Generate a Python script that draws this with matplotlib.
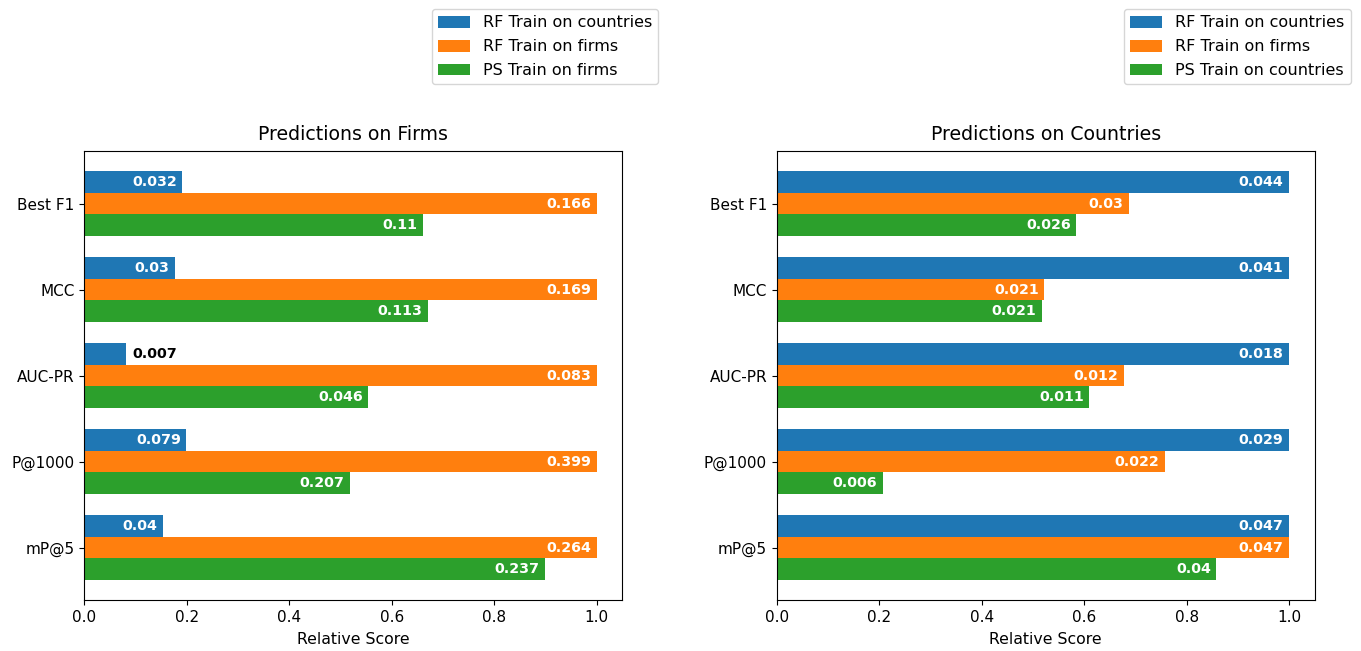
import numpy as np
import matplotlib
matplotlib.use("Agg")
import matplotlib.pyplot as plt

plt.rcParams["font.family"] = ["DejaVu Sans"]

metrics = ["Best F1", "MCC", "AUC-PR", "P@1000", "mP@5"]

# Predictions on firms: raw scores (labels) and relative scores (bar lengths)
firms_labels = ["RF Train on countries", "RF Train on firms", "PS Train on firms"]
firms_raw = [
    [0.032, 0.03, 0.007, 0.079, 0.04],
    [0.166, 0.169, 0.083, 0.399, 0.264],
    [0.11, 0.113, 0.046, 0.207, 0.237],
]
firms_rel = [
    [0.191, 0.177, 0.082, 0.199, 0.154],
    [1.0, 1.0, 1.0, 1.0, 1.0],
    [0.661, 0.671, 0.554, 0.519, 0.899],
]

# Predictions on countries
countries_labels = ["RF Train on countries", "RF Train on firms", "PS Train on countries"]
countries_raw = [
    [0.044, 0.041, 0.018, 0.029, 0.047],
    [0.03, 0.021, 0.012, 0.022, 0.047],
    [0.026, 0.021, 0.011, 0.006, 0.04],
]
countries_rel = [
    [1.0, 1.0, 1.0, 1.0, 1.0],
    [0.688, 0.522, 0.678, 0.758, 1.0],
    [0.585, 0.518, 0.610, 0.207, 0.858],
]

colors = ["#1f77b4", "#ff7f0e", "#2ca02c"]


def draw_panel(ax, title, labels, raw, rel):
    y = np.arange(len(metrics))
    h = 0.25
    for i in range(3):
        bars = ax.barh(y + (i - 1) * h, rel[i], height=h, color=colors[i], label=labels[i])
        for b, r, v in zip(bars, rel[i], raw[i]):
            yc = b.get_y() + b.get_height() / 2
            if r < 0.12:
                # too short: put the value outside the bar
                ax.annotate(f"{v:g}", (r, yc), xytext=(4, 0), textcoords="offset points",
                            va="center", ha="left", color="black",
                            fontweight="bold", fontsize=10.3)
            else:
                ax.annotate(f"{v:g}", (r, yc), xytext=(-4, 0), textcoords="offset points",
                            va="center", ha="right", color="white",
                            fontweight="bold", fontsize=10.3)
    ax.set_yticks(y)
    ax.set_yticklabels(metrics, fontsize=11)
    ax.invert_yaxis()
    ax.set_xlabel("Relative Score", fontsize=11.3, labelpad=5)
    ax.tick_params(axis="x", labelsize=11)
    ax.set_title(title, fontsize=13.6, pad=8)
    ax.legend(loc="upper right", bbox_to_anchor=(1.067, 1.316), borderaxespad=0,
              fontsize=11.5, labelspacing=0.55, borderpad=0.4, handleheight=0.75)


fig, (ax1, ax2) = plt.subplots(1, 2, figsize=(13.61, 6.51), dpi=100)
fig.subplots_adjust(left=0.062, right=0.966, top=0.768, bottom=0.078, wspace=0.287)

draw_panel(ax1, "Predictions on Firms", firms_labels, firms_raw, firms_rel)
draw_panel(ax2, "Predictions on Countries", countries_labels, countries_raw, countries_rel)

fig.savefig("out.png", dpi=100)
